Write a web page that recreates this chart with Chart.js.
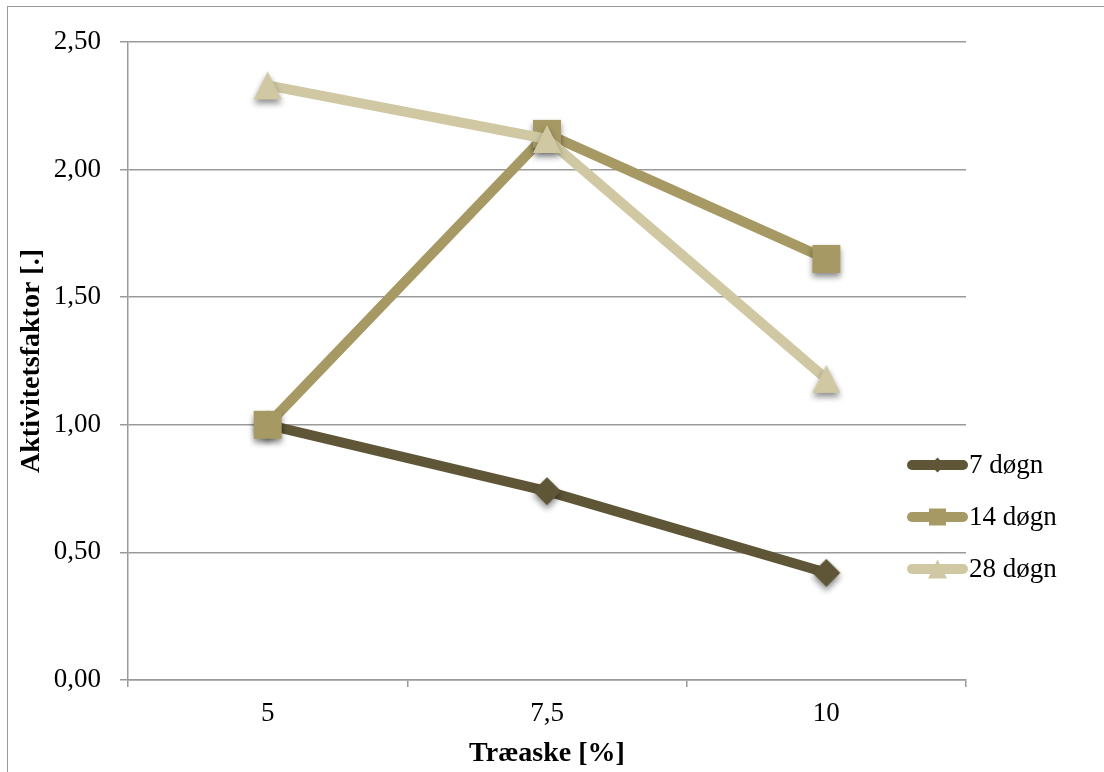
<!DOCTYPE html>
<html>
<head>
<meta charset="utf-8">
<script src="https://cdn.jsdelivr.net/npm/chart.js@4"></script>
<style>
  html, body { margin: 0; padding: 0; background: #fff; }
  #wrap { position: relative; width: 1104px; height: 772px; overflow: hidden; }
  #frame { position: absolute; left: 7px; top: 6px; width: 1200px; height: 900px;
           border-left: 1.5px solid #9a9a9a; border-top: 1.5px solid #9a9a9a; }
  canvas { position: absolute; left: 0; top: 0; }
</style>
</head>
<body>
<div id="wrap">
  <div id="frame"></div>
  <canvas id="c" width="1104" height="772"></canvas>
</div>
<script>
// Træaske-indhold (%) på x-aksen
const categories = ['5', '7,5', '10'];
// Aktivitetsfaktor efter 7, 14 og 28 døgn
const seriesNames = ['7 døgn', '14 døgn', '28 døgn'];
const values7 = [1.00, 0.74, 0.42];
const values14 = [1.00, 2.14, 1.65];
const values28 = [2.33, 2.12, 1.18];
const yTicks = [0, 0.5, 1.0, 1.5, 2.0, 2.5];

const colors = ['#5f5637', '#a69963', '#cfc8a3'];
const shapes = ['diamond', 'square', 'triangle'];
const FONT = "'Liberation Serif', 'Times New Roman', serif";

function shapePath(ctx, shape, cx, cy, s) {
  ctx.beginPath();
  if (shape === 'diamond') {
    ctx.moveTo(cx, cy - s / 2);
    ctx.lineTo(cx + s / 2, cy);
    ctx.lineTo(cx, cy + s / 2);
    ctx.lineTo(cx - s / 2, cy);
  } else if (shape === 'square') {
    ctx.rect(cx - s / 2, cy - s / 2, s, s);
  } else {
    ctx.moveTo(cx, cy - s / 2);
    ctx.lineTo(cx + s / 2, cy + s / 2);
    ctx.lineTo(cx - s / 2, cy + s / 2);
  }
  ctx.closePath();
}

// marker image with a soft drop shadow
function makeMarker(shape, color, s) {
  const c = document.createElement('canvas');
  c.width = 60; c.height = 60;
  const ctx = c.getContext('2d');
  ctx.shadowColor = 'rgba(0,0,0,0.45)';
  ctx.shadowBlur = 6;
  ctx.shadowOffsetY = 4;
  ctx.fillStyle = color;
  shapePath(ctx, shape, 30, 30, s);
  ctx.fill();
  return c;
}

const markerSizes = [28, 28, 28];
const markers = shapes.map((sh, i) => makeMarker(sh, colors[i], markerSizes[i]));

// legend at the right: line sample with marker and name
const sideLegend = {
  id: 'sideLegend',
  afterDraw(chart) {
    const ctx = chart.ctx;
    const x0 = 912, x1 = 963, xt = 969;
    const rowY = [465, 517, 569];
    const legendSizes = [15, 17, 19];
    ctx.save();
    seriesNames.forEach((name, i) => {
      const y = rowY[i];
      ctx.strokeStyle = colors[i];
      ctx.lineWidth = 10;
      ctx.lineCap = 'round';
      ctx.beginPath();
      ctx.moveTo(x0, y);
      ctx.lineTo(x1, y);
      ctx.stroke();
      ctx.fillStyle = colors[i];
      shapePath(ctx, shapes[i], (x0 + x1) / 2, y, legendSizes[i]);
      ctx.fill();
      ctx.fillStyle = '#000';
      ctx.font = '27px ' + FONT;
      ctx.textAlign = 'left';
      ctx.textBaseline = 'middle';
      ctx.fillText(name, xt, y + 1);
    });
    ctx.restore();
  }
};

const seriesValues = [values7, values14, values28];

new Chart(document.getElementById('c'), {
  type: 'line',
  data: {
    labels: categories,
    datasets: seriesNames.map((name, i) => ({
      label: name,
      data: seriesValues[i],
      borderColor: colors[i],
      backgroundColor: colors[i],
      borderWidth: 10,
      pointStyle: markers[i],
      pointRadius: 14,
      pointHoverRadius: 14,
      tension: 0,
      fill: false,
      order: 3 - i
    }))
  },
  options: {
    responsive: false,
    animation: false,
    events: [],
    layout: { padding: { left: 0, top: 42, right: 138, bottom: 0 } },
    plugins: { legend: { display: false }, tooltip: { enabled: false } },
    scales: {
      x: {
        type: 'category',
        offset: true,
        afterFit(scale) { scale.height = 92; },
        grid: { offset: true, drawOnChartArea: false, drawTicks: true, tickLength: 7,
                color: '#9a9a9a', lineWidth: 1.5 },
        border: { display: true, color: '#9a9a9a', width: 1.5 },
        ticks: { color: '#000', font: { family: FONT, size: 27 }, padding: 11, maxRotation: 0 },
        title: { display: true, text: 'Træaske [%]', color: '#000',
                 font: { family: FONT, size: 28, weight: 'bold' }, padding: { top: 0, bottom: 1 } }
      },
      y: {
        min: 0,
        max: 2.5,
        afterFit(scale) { scale.width = 128; },
        afterBuildTicks(scale) { scale.ticks = yTicks.map(v => ({ value: v })); },
        grid: { color: '#9a9a9a', lineWidth: 1.5, tickLength: 8 },
        border: { display: true, color: '#9a9a9a', width: 1.5 },
        ticks: { color: '#000', font: { family: FONT, size: 27 }, padding: 19,
                 callback: v => Number(v).toFixed(2).replace('.', ',') },
        title: { display: true, text: 'Aktivitetsfaktor [.]', color: '#000',
                 font: { family: FONT, size: 28, weight: 'bold' }, padding: { top: 15, bottom: 0 } }
      }
    }
  },
  plugins: [sideLegend]
});
</script>
</body>
</html>
